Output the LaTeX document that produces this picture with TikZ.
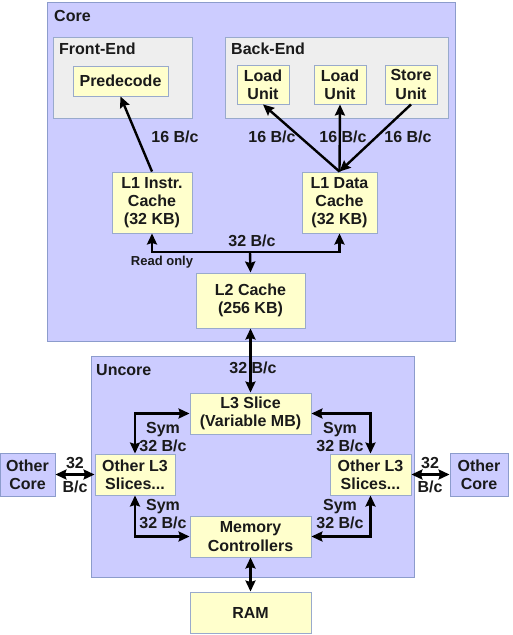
\documentclass[tikz,border=0pt]{standalone}
\usepackage{fontspec}
\setmainfont{Liberation Sans}
\usetikzlibrary{arrows.meta}
\definecolor{lav}{HTML}{CCCCFF}
\definecolor{lavb}{HTML}{8C9CCC}
\definecolor{grp}{HTML}{EEEEEE}
\definecolor{yel}{HTML}{FFFFCC}
\definecolor{boxb}{HTML}{99AACC}
\definecolor{txt}{HTML}{1A1A1A}
\begin{document}
\begin{tikzpicture}[x=1pt,y=-1pt,
  region/.style={draw=lavb,fill=lav,line width=0.9pt,inner sep=0pt},
  grpbox/.style={draw=boxb,fill=grp,line width=0.9pt,inner sep=0pt},
  blk/.style={draw=boxb,fill=yel,line width=0.9pt,inner sep=0pt,align=center,
    font=\bfseries\fontsize{16}{18.3}\selectfont,text=txt},
  lbl/.style={inner sep=0pt,align=center,font=\bfseries\fontsize{16}{18.3}\selectfont,text=txt},
  conn/.style={line width=2.4pt,draw=black,arrows={-Stealth[length=11pt,width=10pt,inset=1.5pt]}},
  dconn/.style={line width=2.4pt,draw=black,arrows={Stealth[length=11pt,width=10pt,inset=1.5pt]-Stealth[length=11pt,width=10pt,inset=1.5pt]}}
]
\useasboundingbox[fill=white] (0,0) rectangle (512,635);
% regions
\node[region,minimum width=408,minimum height=339] (core) at (251,171.5) {};
\node[region,minimum width=323,minimum height=221] (uncore) at (252.5,466.5) {};
\node[grpbox,minimum width=139,minimum height=81] (fe) at (122.5,77.5) {};
\node[grpbox,minimum width=223,minimum height=81] (be) at (336.5,77.5) {};
% titles
\node[lbl,anchor=west] (corelbl) at (54,16) {Core};
\node[lbl,anchor=west] (felbl) at (59,49) {Front-End};
\node[lbl,anchor=west] (belbl) at (231,49) {Back-End};
\node[lbl,anchor=west] (unclbl) at (96,370) {Uncore};
% blocks
\node[blk,minimum width=95,minimum height=30] (pre) at (120.5,81) {Predecode};
\node[blk,minimum width=52,minimum height=39] (lu1) at (263,84.5) {Load\\Unit};
\node[blk,minimum width=52,minimum height=39] (lu2) at (340,84.5) {Load\\Unit};
\node[blk,minimum width=52,minimum height=39] (su) at (411,84.5) {Store\\Unit};
\node[blk,minimum width=80,minimum height=61] (l1i) at (152,202.5) {L1 Instr.\\Cache\\(32 KB)};
\node[blk,minimum width=75,minimum height=61] (l1d) at (339.5,202.5) {L1 Data\\Cache\\(32 KB)};
\node[blk,minimum width=109,minimum height=55] (l2) at (250.5,300.5) {L2 Cache\\(256 KB)};
\node[blk,minimum width=121,minimum height=41] (l3) at (250.5,413.5) {L3 Slice\\(Variable MB)};
\node[blk,minimum width=121,minimum height=41] (mc) at (250.5,536.5) {Memory\\Controllers};
\node[blk,minimum width=121,minimum height=41] (ram) at (250.5,612.5) {RAM};
\node[blk,minimum width=80,minimum height=41] (ol3l) at (135,474.5) {Other L3\\Slices...};
\node[blk,minimum width=81,minimum height=41] (ol3r) at (370.5,474.5) {Other L3\\Slices...};
\node[region,lbl,minimum width=55,minimum height=43] (ocl) at (27.5,474.5) {Other\\Core};
\node[region,lbl,minimum width=58,minimum height=43] (ocr) at (479,474.5) {Other\\Core};
% connector labels
\node[lbl] (t1) at (175,137) {16 B/c};
\node[lbl] (t2) at (272,137) {16 B/c};
\node[lbl] (t3) at (343,137) {16 B/c};
\node[lbl] (t4) at (408,137) {16 B/c};
\node[lbl] (t5) at (252,241) {32 B/c};
\node[lbl,font=\bfseries\fontsize{13}{15}\selectfont] (t6) at (162,262) {Read only};
\node[lbl] (t7) at (253,368) {32 B/c};
\node[lbl] (s1) at (163,437) {Sym\\32 B/c};
\node[lbl] (s2) at (340,437) {Sym\\32 B/c};
\node[lbl] (s3) at (163,514) {Sym\\32 B/c};
\node[lbl] (s4) at (340,514) {Sym\\32 B/c};
\node[lbl,font=\bfseries\fontsize{16}{24}\selectfont] (o1) at (75,475) {32\\B/c};
\node[lbl,font=\bfseries\fontsize{16}{24}\selectfont] (o2) at (430,475) {32\\B/c};
% connectors
\coordinate (bus) at (250,252);
\draw[conn] (l1i.north) -- (pre.south);
\draw[conn] (l1d.north) -- (lu1.south);
\draw[conn] (l1d.north) -- (lu2.south);
\draw[conn] (su.south) -- (l1d.north);
\draw[dconn] (l1i.south) -- (l1i.south |- bus) -- (l1d.south |- bus) -- (l1d.south);
\draw[conn] (bus) -- (l2.north);
\draw[dconn] (l2.south) -- (l3.north);
\draw[dconn] (ol3l.north) |- (l3.west);
\draw[dconn] (ol3l.south) |- (mc.west);
\draw[dconn] (ol3r.north) |- (l3.east);
\draw[dconn] (ol3r.south) |- (mc.east);
\draw[dconn] (ocl.east) -- (ol3l.west);
\draw[dconn] (ocr.west) -- (ol3r.east);
\draw[dconn] (mc.south) -- (ram.north);
\end{tikzpicture}
\end{document}
